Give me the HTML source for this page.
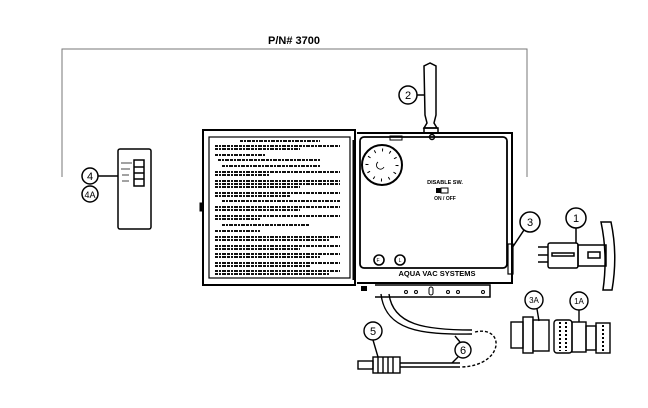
<!DOCTYPE html>
<html><head><meta charset="utf-8"><style>
html,body{margin:0;padding:0;background:#fff;}
svg{display:block}
text{font-family:"Liberation Sans",sans-serif;}
</style></head><body>
<svg width="648" height="408" viewBox="0 0 648 408" xmlns="http://www.w3.org/2000/svg">
<g fill="none" stroke="#000">
<polyline points="62,177 62,49 527,49 527,177" stroke="#777" stroke-width="1"/>
</g>
<text x="294" y="44" font-size="11" font-weight="bold" text-anchor="middle">P/N# 3700</text>

<g fill="none" stroke="#000" stroke-width="1.5">
<rect x="118" y="149" width="33" height="80" rx="2"/>
<rect x="134" y="160" width="10" height="26"/>
<line x1="134" y1="167" x2="144" y2="167"/><line x1="134" y1="173" x2="144" y2="173"/><line x1="134" y1="179" x2="144" y2="179"/>
<circle cx="90" cy="176" r="8"/><circle cx="90" cy="194" r="8"/>
<line x1="98" y1="176" x2="118" y2="176"/>
</g>
<g stroke="#444" stroke-width="1"><line x1="121" y1="163" x2="132" y2="163"/><line x1="121" y1="169" x2="130" y2="169"/><line x1="122" y1="175" x2="129" y2="175"/><line x1="122" y1="181" x2="129" y2="181"/></g>
<text x="90" y="180" font-size="11" text-anchor="middle">4</text>
<text x="90" y="198" font-size="9" text-anchor="middle">4A</text>

<g fill="none" stroke="#000">
<rect x="203" y="130" width="152" height="155" stroke-width="2"/>
<rect x="209" y="137" width="141" height="141" stroke-width="1.2"/>
<rect x="200" y="203" width="3" height="8" fill="#000"/>
<line x1="354" y1="140" x2="354" y2="280" stroke-width="3"/>
</g>
<g stroke="#111" stroke-width="2" stroke-dasharray="3 1 2 1 4 1">
<line x1="240" y1="141" x2="320" y2="141"/>
<line x1="215" y1="146" x2="340" y2="146"/><line x1="215" y1="149" x2="300" y2="149"/>
<line x1="215" y1="155" x2="265" y2="155"/>
<line x1="218" y1="160" x2="320" y2="160"/>
<line x1="222" y1="166" x2="320" y2="166"/>
<line x1="215" y1="172" x2="340" y2="172"/><line x1="215" y1="175" x2="270" y2="175"/>
<line x1="215" y1="181" x2="340" y2="181"/><line x1="215" y1="184" x2="340" y2="184"/><line x1="215" y1="187" x2="300" y2="187"/>
<line x1="215" y1="193" x2="340" y2="193"/><line x1="215" y1="196" x2="290" y2="196"/>
<line x1="222" y1="201" x2="340" y2="201"/>
<line x1="215" y1="207" x2="340" y2="207"/><line x1="215" y1="210" x2="300" y2="210"/>
<line x1="215" y1="216" x2="340" y2="216"/><line x1="215" y1="219" x2="260" y2="219"/>
<line x1="222" y1="225" x2="310" y2="225"/>
<line x1="215" y1="231" x2="260" y2="231"/>
<line x1="215" y1="237" x2="340" y2="237"/><line x1="215" y1="240" x2="330" y2="240"/>
<line x1="215" y1="246" x2="340" y2="246"/><line x1="215" y1="249" x2="300" y2="249"/>
<line x1="215" y1="254" x2="340" y2="254"/><line x1="215" y1="257" x2="320" y2="257"/>
<line x1="215" y1="263" x2="340" y2="263"/><line x1="215" y1="266" x2="310" y2="266"/>
<line x1="215" y1="271" x2="340" y2="271"/><line x1="215" y1="274" x2="330" y2="274"/>
</g>

<g fill="none" stroke="#000">
<path d="M357,133 H512 V283 H357" stroke-width="2"/>
<rect x="360" y="137" width="147" height="131" rx="4" stroke-width="1.8"/>
<circle cx="382" cy="165" r="20" stroke-width="2"/>
<circle cx="382" cy="165" r="15" stroke-width="3" stroke-dasharray="1 6.85"/>
<path d="M378,162 a4,4 0 1 0 6,5" stroke-width="0.8"/>
<rect x="441" y="188" width="7" height="5" stroke-width="1"/>
<circle cx="379" cy="260" r="5" stroke-width="1.6"/>
<circle cx="400" cy="260" r="5" stroke-width="1.6"/>
<path d="M375,285 H490 V297 H375" stroke-width="1.5"/>
<rect x="508" y="244" width="5" height="30" stroke-width="1.2"/>
<rect x="390" y="136" width="12" height="4" stroke-width="1"/>
</g>
<rect x="436" y="188" width="5" height="5" fill="#000"/>
<rect x="361" y="286" width="6" height="5" fill="#000"/>
<text x="445" y="184" font-size="5.5" font-weight="bold" text-anchor="middle">DISABLE SW.</text>
<text x="445" y="200" font-size="5" font-weight="bold" text-anchor="middle">ON / OFF</text>
<text x="378" y="262" font-size="5" text-anchor="middle">F</text>
<text x="400" y="262" font-size="5" text-anchor="middle">L</text>
<text x="437" y="276" font-size="7.5" font-weight="bold" text-anchor="middle">AQUA VAC SYSTEMS</text>
<g fill="none" stroke="#000" stroke-width="1">
<circle cx="406" cy="292" r="1.5"/><circle cx="416" cy="292" r="1.5"/><circle cx="448" cy="292" r="1.5"/><circle cx="458" cy="292" r="1.5"/><circle cx="483" cy="292" r="1.5"/>
<rect x="429" y="287" width="4" height="8" rx="2"/>
</g>

<g fill="none" stroke="#000" stroke-width="1.5">
<path d="M430,63 L424,66 L425,115 L427,123 L424,128 L437,128 L434,123 L436,115 L436,66 Z"/>
<rect x="424" y="128" width="14" height="5"/>
<circle cx="432" cy="137" r="2.5"/>
<circle cx="408" cy="95" r="9"/>
<line x1="417" y1="95" x2="425" y2="95"/>
</g>
<text x="408" y="99" font-size="11" text-anchor="middle">2</text>

<g fill="none" stroke="#000" stroke-width="1.5">
<circle cx="530" cy="222" r="10"/>
<line x1="524" y1="230" x2="512" y2="248"/>
<circle cx="576" cy="218" r="10"/>
<line x1="576" y1="228" x2="576" y2="243"/>
<rect x="548" y="243" width="30" height="25" rx="2"/>
<rect x="552" y="253" width="22" height="3"/>
<rect x="578" y="245" width="28" height="21"/>
<rect x="588" y="252" width="12" height="6"/>
<line x1="538" y1="247" x2="548" y2="247"/><line x1="538" y1="255" x2="548" y2="255"/><line x1="538" y1="262" x2="548" y2="262"/>
<path d="M601,222 L611,222 Q618,255 612,290 L603,290 Q608,255 601,222 Z"/>
</g>
<text x="530" y="226" font-size="11" text-anchor="middle">3</text>
<text x="576" y="222" font-size="11" text-anchor="middle">1</text>

<g fill="none" stroke="#000" stroke-width="1.4">
<path d="M381,294 C385,330 420,335 472,334"/>
<path d="M389,294 C393,325 425,330 472,330"/>
<path d="M475,332 C505,325 505,365 462,367" stroke-dasharray="3 2"/>
<line x1="400" y1="363" x2="460" y2="363"/><line x1="400" y1="367" x2="460" y2="367"/>
<circle cx="463" cy="350" r="8"/>
<line x1="460" y1="342" x2="455" y2="336"/>
<line x1="458" y1="357" x2="452" y2="363"/>
<circle cx="373" cy="331" r="9"/>
<line x1="373" y1="340" x2="378" y2="357"/>
<rect x="373" y="357" width="27" height="16"/>
<line x1="378" y1="357" x2="378" y2="373"/><line x1="383" y1="357" x2="383" y2="373"/><line x1="388" y1="357" x2="388" y2="373"/><line x1="393" y1="357" x2="393" y2="373"/>
<rect x="358" y="361" width="15" height="8"/>
<circle cx="534" cy="300" r="9"/>
<line x1="537" y1="309" x2="539" y2="321"/>
<rect x="511" y="322" width="12" height="26"/>
<rect x="523" y="317" width="10" height="36"/>
<rect x="533" y="320" width="16" height="31"/>
<circle cx="579" cy="301" r="9"/>
<line x1="579" y1="310" x2="579" y2="322"/>
<rect x="554" y="320" width="18" height="33" rx="3"/>
<rect x="572" y="322" width="14" height="30"/>
<rect x="586" y="326" width="10" height="24"/>
<rect x="596" y="323" width="14" height="30"/>
</g>
<g stroke="#000" stroke-width="2" stroke-dasharray="2 2"><line x1="560" y1="322" x2="560" y2="351"/><line x1="566" y1="322" x2="566" y2="351"/><line x1="603" y1="325" x2="603" y2="351"/></g>
<text x="373" y="335" font-size="11" text-anchor="middle">5</text>
<text x="463" y="354" font-size="11" text-anchor="middle">6</text>
<text x="534" y="303" font-size="8" text-anchor="middle">3A</text>
<text x="579" y="304" font-size="8" text-anchor="middle">1A</text>
</svg>
</body></html>
